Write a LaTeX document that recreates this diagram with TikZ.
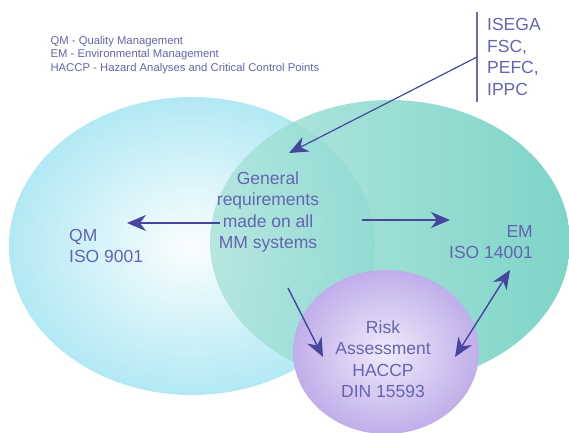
\documentclass[tikz,border=0pt]{standalone}
\usepackage{fontspec}
\setmainfont{Liberation Sans}
\usepackage{xcolor}
\usetikzlibrary{arrows.meta,positioning,calc}

\definecolor{txtblue}{HTML}{6464B0}
\definecolor{arrblue}{HTML}{46469E}
\definecolor{qmcyan}{HTML}{B2E9F4}
\definecolor{emteal}{HTML}{68CDBE}
\definecolor{riskviolet}{HTML}{C0AEEA}

\tikzset{
  lbl/.style={text=txtblue, font=\fontsize{17.5}{21.5}\selectfont, inner sep=0pt},
  arr/.style={draw=arrblue, line width=1.8pt, -{Stealth[length=19pt,width=16pt,inset=6pt]}},
  dblarr/.style={arr, {Stealth[length=19pt,width=16pt,inset=6pt]}-{Stealth[length=19pt,width=16pt,inset=6pt]}}
}

\begin{document}
\begin{tikzpicture}[x=1pt,y=-1pt]
	\useasboundingbox (0,0) rectangle (569,432);
	% the three areas
	\shade[inner color=white!95!qmcyan, outer color=qmcyan] (192,246) ellipse [x radius=183, y radius=149];
	\shade[left color=emteal!55!white, right color=emteal, opacity=0.85] (390,242) ellipse [x radius=180, y radius=142];
	\shade[inner color=white!75!riskviolet, outer color=riskviolet] (386,352) ellipse [x radius=93, y radius=82];
	% legend
	\node[anchor=west, align=left, text=txtblue, font=\fontsize{11.3}{13.5}\selectfont] (legend) at (47,55)
		{QM - Quality Management\\EM - Environmental Management\\HACCP - Hazard Analyses and Critical Control Points};
	% list with bar
	\node[lbl, anchor=west, align=left] (norms) at (487,57) {ISEGA\\FSC,\\PEFC,\\IPPC};
	\draw[arrblue!80, line width=1.2pt] (477,12) -- (477,102);
	\coordinate (bar) at (477,57);
	% texts
	\node[lbl, align=center] (general) at (268,212) {General\\requirements\\made on all\\MM systems};
	\node[lbl, anchor=west, align=left] (qm) at (69,246) {QM\\ISO 9001};
	\node[lbl, anchor=east, align=right] (em) at (533,242) {EM\\ISO 14001};
	\node[lbl, align=center] (risk) at (383,359) {Risk\\Assessment\\HACCP\\DIN 15593};
	% arrow ends
	\coordinate (gtop) at (289,153);
	\coordinate (gleft) at (220,223);
	\coordinate (qmend) at (127,223);
	\coordinate (gright) at (362,220);
	\coordinate (emend) at (450,220);
	\coordinate (gdown) at (288,288);
	\coordinate (riskend) at (323,357);
	\coordinate (emlow) at (510,270);
	\coordinate (riskright) at (455,357);
	% connectors
	\draw[arr, line width=1.2pt] (bar) -- (gtop);
	\draw[arr] (gleft) -- (qmend);
	\draw[arr] (gright) -- (emend);
	\draw[arr, line width=1.4pt] (gdown) -- (riskend);
	\draw[dblarr, line width=1.4pt] (riskright) -- (emlow);
\end{tikzpicture}
\end{document}
